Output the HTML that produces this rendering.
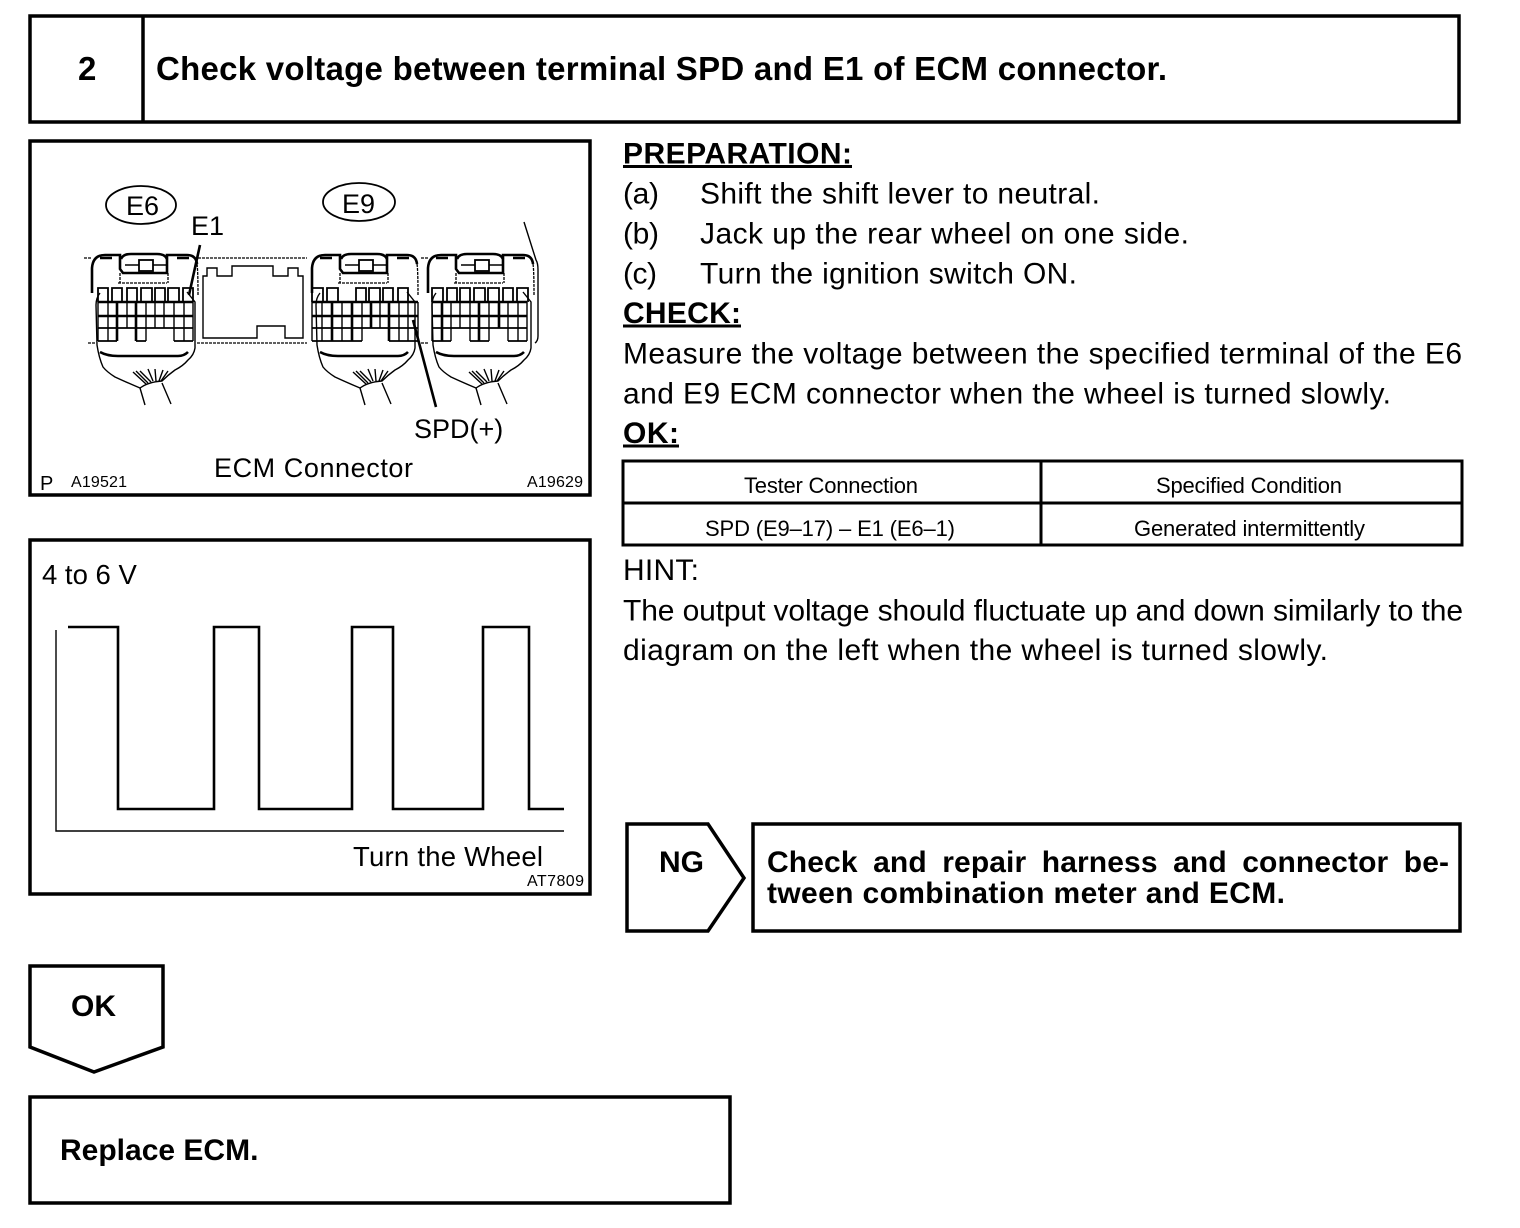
<!DOCTYPE html>
<html><head><meta charset="utf-8"><style>
html,body{margin:0;padding:0;background:#fff}
svg{display:block}
text{font-family:"Liberation Sans",sans-serif;fill:#000}
.b{font-weight:bold}
.box{fill:none;stroke:#000;stroke-width:3.5}
.t{fill:none;stroke:#000;stroke-width:1.4}
.c{fill:none;stroke:#000;stroke-width:1.8}
.h{fill:none;stroke:#000;stroke-width:2.6}
.d{fill:none;stroke:#000;stroke-width:1.3;stroke-dasharray:3 1}
</style></head><body>
<svg width="1520" height="1228" viewBox="0 0 1520 1228" xmlns="http://www.w3.org/2000/svg">
<defs>
<g id="conn">
<path class="h" d="M92 293V268Q93 255 105 255H120V269L123 273H167V255H187Q196 255 197 264"/>
<path class="d" d="M197 264Q198 270 198 295"/>
<path class="h" d="M121 259Q123 254 131 254H157Q165 254 167 259"/>
<path class="t" d="M125 265H139M153 265H166"/>
<rect x="139" y="260" width="14" height="11" class="c"/>
<path class="h" d="M100 258H112M177 258H189"/>
<path class="d" d="M118 283H167M120 273V283M168 273V283"/>
<path class="t" d="M100 293Q96 298 96 305L97 345Q99 358 103 367Q107 372 115 377Q128 383 140 388Q148 382 162 381Q168 375 175 370Q183 366 188 360Q194 355 195 348V302L187 292"/>
<path class="h" d="M100 352Q107 356 118 356H178Q184 356 188 352"/>
<path class="t" d="M140 388L145 405M162 383L171 404M133 372L146 384M136 371L148 383M140 371L151 382M148 369L153 381M155 369L156 381M163 370L159 381M168 371L161 381"/>
</g>
</defs>

<!-- title -->
<rect class="box" x="30" y="16" width="1429" height="106"/>
<path class="box" d="M143 16V122"/>
<text class="b" x="78" y="80" font-size="33" textLength="19">2</text>
<text class="b" x="156" y="80" font-size="33" textLength="1011">Check voltage between terminal SPD and E1 of ECM connector.</text>

<!-- connector diagram -->
<rect class="box" x="30" y="141" width="560" height="354"/>
<ellipse class="c" cx="141" cy="205" rx="35" ry="19"/>
<ellipse class="c" cx="359" cy="202" rx="36" ry="19"/>
<g font-size="27">
<text x="126" y="215">E6</text>
<text x="342" y="213">E9</text>
<text x="191" y="235">E1</text>
<text x="414" y="438">SPD(+)</text>
<text x="214" y="477" textLength="199">ECM Connector</text>
</g>
<text x="40" y="490" font-size="20">P</text>
<text x="71" y="487" font-size="16" textLength="56">A19521</text>
<text x="527" y="487" font-size="16" textLength="56">A19629</text>

<use href="#conn"/>
<use href="#conn" x="220"/>
<use href="#conn" x="336"/>

<!-- rails / central body -->
<path class="d" d="M84 258H92M198 258H307M88 343H95M197 343H307M421 258H428M421 343H428"/>
<path class="t" d="M203 338V276H207V268H217V276H232V266H273V276H288V268H298V276H303V338H285V326H257V338Z"/>
<path class="t" d="M524 222L536 260Q538 263 538 270V336Q538 341 535 343"/>

<!-- E6 cells -->
<path class="c" d="M98 302V288H108V302M112 302V288H122V302M127 302V288H137V302M141 302V288H152V302M155 302V288H165V302M168 302V288H179V302M183 302V288H193V302"/>
<path class="h" d="M98 302H193M98 316H193"/>
<path class="c" d="M98 328H193M98 341H117M136 341H146M174 341H193"/>
<path class="t" d="M98 302V341M108 302V341M127 302V328M146 302V341M155 302V328M164 302V328M174 302V341M184 302V341M193 302V341"/>
<path class="h" d="M117 302V341M136 302V341"/>

<!-- E9 cells -->
<path class="c" d="M312 302V288H323V302M327 302V288H338V302M356 302V288H366V302M369 302V288H380V302M383 302V288H393V302M398 302V288H408V302"/>
<path class="h" d="M312 302H418M312 316H418"/>
<path class="c" d="M312 328H418M312 341H362M389 341H418"/>
<path class="t" d="M312 302V341M322 302V341M342 302V341M362 302V341M380 302V328M399 302V341M408 302V341M418 302V341"/>
<path class="h" d="M332 302V341M352 302V341M371 302V328M389 302V341"/>

<!-- third connector cells -->
<path class="c" d="M432 302V288H443V302M447 302V288H457V302M460 302V288H470V302M474 302V288H485V302M488 302V288H499V302M503 302V288H513V302M517 302V288H528V302"/>
<path class="h" d="M432 302H527M432 316H527"/>
<path class="c" d="M432 328H527M432 341H451M470 341H489M508 341H527"/>
<path class="t" d="M432 302V341M451 302V341M460 302V328M470 302V341M489 302V341M508 302V341M518 302V341M527 302V341"/>
<path class="h" d="M442 302V341M479 302V341M499 302V328"/>

<!-- leaders -->
<path class="h" d="M200 245L189 295M413 320L436 407"/>

<!-- waveform -->
<rect class="box" x="30" y="540" width="560" height="354"/>
<text x="42" y="584" font-size="27.500">4 to 6 V</text>
<path class="t" d="M56 630V831H564"/>
<path class="h" d="M68 627H118V809H214V627H259V809H352V627H393V809H483V627H529V809H564"/>
<text x="353" y="866" font-size="27.500" textLength="190">Turn the Wheel</text>
<text x="527" y="886" font-size="16" textLength="57">AT7809</text>

<!-- right column -->
<g font-size="30">
<text class="b" x="623" y="163.500" textLength="229">PREPARATION:</text>
<path class="h" d="M623 166.500H852" style="stroke-width:3"/>
<text x="623" y="203.500" textLength="36">(a)</text><text x="700" y="203.500" textLength="400">Shift the shift lever to neutral.</text>
<text x="623" y="243.500" textLength="36">(b)</text><text x="700" y="243.500" textLength="489">Jack up the rear wheel on one side.</text>
<text x="623" y="283.500" textLength="34">(c)</text><text x="700" y="283.500" textLength="377">Turn the ignition switch ON.</text>
<text class="b" x="623" y="323" textLength="118">CHECK:</text>
<path class="h" d="M623 326H741" style="stroke-width:3"/>
<text x="623" y="363.500" textLength="839">Measure the voltage between the specified terminal of the E6</text>
<text x="623" y="403.500" textLength="768">and E9 ECM connector when the wheel is turned slowly.</text>
<text class="b" x="623" y="443" textLength="56">OK:</text>
<path class="h" d="M623 446H679" style="stroke-width:3"/>
<text x="623" y="580" textLength="76">HINT:</text>
<text x="623" y="620.500" textLength="840">The output voltage should fluctuate up and down similarly to the</text>
<text x="623" y="660" textLength="705">diagram on the left when the wheel is turned slowly.</text>
</g>

<!-- table -->
<rect class="box" x="623" y="461" width="839" height="84" style="stroke-width:3"/>
<path class="box" d="M623 503H1462M1041 461V545" style="stroke-width:3"/>
<g font-size="22">
<text x="744" y="493" textLength="174">Tester Connection</text>
<text x="1156" y="493" textLength="186">Specified Condition</text>
<text x="705" y="536" textLength="250">SPD (E9–17) – E1 (E6–1)</text>
<text x="1134" y="536" textLength="231">Generated intermittently</text>
</g>

<!-- NG -->
<path class="box" d="M627 824H708L744 878L708 931H627Z"/>
<rect class="box" x="753" y="824" width="707" height="107"/>
<g font-size="30">
<text class="b" x="659" y="872">NG</text>
<text class="b" x="767" y="872" textLength="682" word-spacing="7">Check and repair harness and connector be-</text>
<text class="b" x="767" y="903" textLength="518">tween combination meter and ECM.</text>
<text class="b" x="71" y="1016">OK</text>
<text class="b" x="60" y="1160">Replace ECM.</text>
</g>

<!-- OK -->
<path class="box" d="M30 966H163V1047L94 1072L30 1047Z"/>
<rect class="box" x="30" y="1097" width="700" height="106"/>
</svg>
</body></html>
